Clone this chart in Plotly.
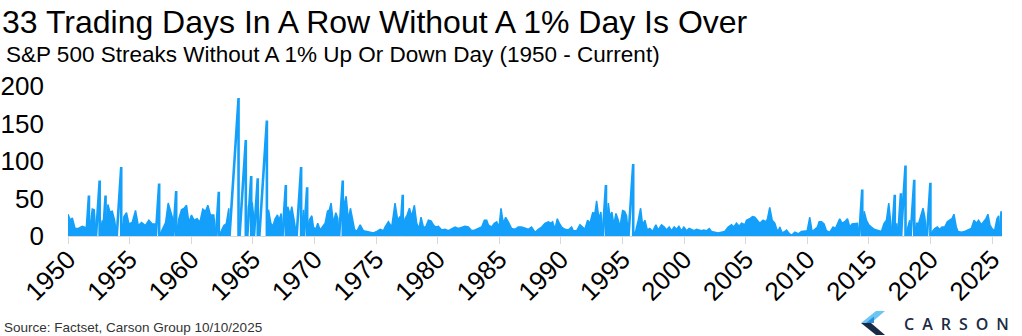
import plotly.graph_objects as go

# S&P 500: running count of trading days without a +/-1% close.
# Profile readings (decimal year, streak length) per decade.
yr_1950s = [1950.00, 1950.19, 1950.35, 1950.57, 1950.84, 1951.16, 1951.48, 1951.84, 1951.97,
            1952.13, 1952.32, 1952.78, 1953.24, 1953.40, 1953.59, 1953.78, 1954.00, 1954.54,
            1954.75, 1954.94, 1955.21, 1955.48, 1955.70, 1955.97, 1956.29, 1956.56, 1956.84,
            1957.11, 1957.65, 1957.92, 1958.13, 1958.32, 1958.54, 1959.00, 1959.21, 1959.43,
            1959.62, 1959.81]
val_1950s = [29, 21, 24, 10, 10, 13, 11, 20, 36,
             35, 31, 21, 42, 32, 33, 21, 30, 26,
             31, 16, 18, 34, 14, 18, 14, 21, 16,
             16, 9, 18, 44, 33, 21, 23, 35, 37,
             41, 18]

yr_1960s = [1960.02, 1960.24, 1960.48, 1960.70, 1960.94, 1961.16, 1961.35, 1961.56, 1961.83,
            1962.03, 1962.46, 1962.65, 1962.84, 1963.05, 1964.49, 1964.95, 1965.04, 1965.45,
            1966.27, 1966.46, 1966.62, 1966.81, 1967.00, 1967.13, 1967.30, 1967.49, 1967.84,
            1968.03, 1968.16, 1968.35, 1968.57, 1968.73, 1969.11, 1969.25, 1969.57, 1969.79,
            1969.92]
val_1960s = [28, 21, 23, 18, 36, 33, 41, 28, 28,
             21, 8, 14, 16, 37, 41, 45, 30, 26,
             35, 17, 13, 23, 28, 21, 30, 13, 39,
             28, 39, 21, 19, 26, 35, 17, 21, 27,
             12]

yr_1970s = [1970.11, 1970.27, 1970.46, 1970.65, 1970.87, 1971.06, 1971.22, 1971.35, 1971.54,
            1971.73, 1971.89, 1972.08, 1972.43, 1972.57, 1972.76, 1972.92, 1973.08, 1973.25,
            1973.43, 1973.71, 1973.98, 1974.25, 1974.52, 1974.79, 1975.06, 1975.33, 1975.60,
            1975.73, 1976.00, 1976.27, 1976.54, 1976.76, 1976.95, 1977.35, 1977.52, 1977.71,
            1977.89, 1978.11, 1978.30, 1978.49, 1978.65, 1978.84, 1979.03, 1979.25, 1979.46,
            1979.65, 1979.84]
val_1970s = [9, 17, 8, 12, 17, 33, 35, 44, 17,
             31, 24, 21, 44, 53, 21, 37, 21, 9,
             6, 15, 7, 6, 5, 4, 6, 9, 7,
             12, 19, 12, 44, 21, 26, 23, 28, 37,
             26, 41, 17, 10, 25, 12, 12, 21, 20,
             15, 12]

yr_1980s = [1980.06, 1980.33, 1980.60, 1980.87, 1981.14, 1981.41, 1981.68, 1981.95, 1982.22,
            1982.49, 1982.76, 1983.03, 1983.30, 1983.57, 1983.79, 1983.98, 1984.11, 1984.38,
            1984.60, 1984.79, 1984.98, 1985.14, 1985.33, 1985.52, 1985.73, 1986.00, 1986.27,
            1986.54, 1986.81, 1987.08, 1987.35, 1987.62, 1987.90, 1988.17, 1988.44, 1988.71,
            1988.98, 1989.17, 1989.33, 1989.52, 1989.71, 1989.87]
val_1980s = [13, 8, 9, 7, 10, 12, 10, 12, 13,
             12, 7, 8, 10, 12, 21, 21, 15, 12,
             17, 19, 12, 37, 17, 25, 19, 10, 9,
             12, 12, 10, 9, 12, 5, 9, 12, 17,
             19, 17, 19, 9, 23, 17]

yr_1990s = [1990.06, 1990.33, 1990.60, 1990.87, 1991.01, 1991.28, 1991.55, 1991.76, 1991.95,
            1992.17, 1992.36, 1992.58, 1992.76, 1992.90, 1993.09, 1993.25, 1993.44, 1993.85,
            1993.98, 1994.14, 1994.30, 1994.47, 1994.66, 1994.79, 1995.01, 1995.17, 1995.33,
            1995.49, 1996.09, 1996.28, 1996.47, 1996.63, 1996.82, 1997.01, 1997.22, 1997.44,
            1997.71, 1997.90, 1998.17, 1998.39, 1998.58, 1998.79, 1998.98, 1999.20, 1999.39,
            1999.58, 1999.79, 1999.98]
val_1990s = [12, 9, 8, 12, 7, 7, 15, 12, 9,
             21, 17, 31, 30, 47, 23, 32, 12, 44,
             26, 32, 15, 30, 21, 12, 34, 33, 27,
             13, 8, 21, 37, 15, 21, 8, 10, 6,
             15, 8, 15, 12, 8, 12, 7, 12, 9,
             13, 7, 12]

yr_2000s = [2000.20, 2000.41, 2000.60, 2000.82, 2001.01, 2001.22, 2001.41, 2001.60, 2001.82,
            2002.04, 2002.22, 2002.49, 2002.76, 2003.03, 2003.30, 2003.58, 2003.85, 2004.03,
            2004.25, 2004.47, 2004.66, 2004.93, 2005.06, 2005.33, 2005.55, 2005.74, 2005.93,
            2006.14, 2006.41, 2006.63, 2006.77, 2006.95, 2007.15, 2007.36, 2007.50, 2007.63,
            2007.77, 2007.96, 2008.18, 2008.31, 2008.50, 2008.72, 2008.99, 2009.26, 2009.53,
            2009.74, 2009.99]
val_2000s = [7, 10, 9, 7, 9, 8, 7, 8, 7,
             10, 6, 5, 4, 5, 6, 12, 15, 12,
             17, 13, 17, 15, 21, 23, 26, 25, 21,
             17, 21, 19, 23, 38, 21, 17, 10, 6,
             12, 4, 6, 8, 4, 1, 5, 3, 6,
             6, 7]

yr_2010s = [2010.20, 2010.39, 2010.61, 2010.82, 2010.96, 2011.15, 2011.36, 2011.55, 2011.82,
            2012.09, 2012.28, 2012.50, 2012.63, 2012.82, 2013.04, 2013.26, 2013.45, 2013.63,
            2013.85, 2014.07, 2014.26, 2014.61, 2014.80, 2014.99, 2015.20, 2015.42, 2015.61,
            2015.80, 2016.01, 2016.23, 2016.42, 2016.61, 2016.77, 2016.96, 2017.26, 2017.42,
            2017.74, 2018.12, 2018.31, 2018.45, 2018.85, 2019.04, 2019.20, 2019.39, 2019.53,
            2019.74]
val_2010s = [25, 6, 9, 12, 19, 19, 16, 7, 5,
             12, 10, 19, 23, 17, 19, 23, 12, 16,
             17, 17, 12, 33, 21, 15, 12, 9, 8,
             7, 6, 17, 21, 44, 17, 28, 17, 37,
             41, 10, 21, 12, 17, 17, 27, 37, 26,
             13]

yr_2020s = [2020.15, 2020.34, 2020.55, 2020.74, 2020.93, 2021.15, 2021.36, 2021.55, 2021.74,
            2021.90, 2022.09, 2022.23, 2022.50, 2022.77, 2023.04, 2023.31, 2023.53, 2023.72,
            2023.90, 2024.12, 2024.31, 2024.50, 2024.66, 2024.82, 2024.99, 2025.20, 2025.39,
            2025.53]
val_2020s = [6, 10, 12, 9, 12, 12, 19, 21, 23,
             29, 12, 6, 5, 6, 8, 10, 21, 17,
             21, 15, 19, 23, 29, 15, 10, 7, 23,
             27]

# Long streaks: decimal year the streak ended and its length in trading days
long_end = [1951.70, 1952.57, 1953.05, 1954.32, 1957.40, 1958.78, 1962.24, 1963.84, 1964.43,
            1964.87, 1965.40, 1966.14, 1967.68, 1968.92, 1969.41, 1972.30, 1977.17, 1993.66,
            1995.87, 2014.46, 2017.10, 2017.60, 2017.97, 2018.68, 2019.99, 2025.76]
long_len = [54, 74, 54, 92, 70, 60, 59, 184, 128,
            80, 77, 154, 68, 92, 65, 74, 55, 68,
            96, 62, 55, 57, 94, 75, 71, 33]

tick_vals = [1950, 1955, 1960, 1965, 1970, 1975, 1980, 1985, 1990, 1995, 2000, 2005, 2010,
             2015, 2020, 2025]
tick_text = ["1950", "1955", "1960", "1965", "1970", "1975", "1980", "1985", "1990", "1995",
             "2000", "2005", "2010", "2015", "2020", "2025"]

TITLE = "33 Trading Days In A Row Without A 1% Day Is Over"
SUBTITLE = "S&P 500 Streaks Without A 1% Up Or Down Day (1950 - Current)"
SOURCE = "Source: Factset, Carson Group 10/10/2025"

TRADING_DAYS = 252
BLUE = "#14a0fa"
NAVY = "#1c2b45"
FONT = "Liberation Sans, Arial, sans-serif"

W, H = 1022, 336
ML, MR, MT, MB = 68, 20, 86, 100
PW, PH = W - ML - MR, H - MT - MB


def paper(px, py):
    """Pixel position on the page -> paper coordinates."""
    return (px - ML) / PW, (H - MB - py) / PH


# ---- build the streak series ----
pairs = sorted(zip(yr_1950s + yr_1960s + yr_1970s + yr_1980s + yr_1990s + yr_2000s + yr_2010s
                   + yr_2020s,
                   val_1950s + val_1960s + val_1970s + val_1980s + val_1990s + val_2000s
                   + val_2010s + val_2020s))

windows = []
prev_end = None
for end, n in sorted(zip(long_end, long_len)):
    start = end - n / TRADING_DAYS
    if prev_end is not None and start < prev_end:
        start = prev_end
    windows.append((start, end, n))
    prev_end = end

# dense stretches between the long streaks (filled to the axis)
bounds = [(None, windows[0][0])]
bounds += [(windows[i][1], windows[i + 1][0]) for i in range(len(windows) - 1)]
bounds += [(windows[-1][1], None)]

fx, fy = [], []
for lo, hi in bounds:
    pts = [(x, y) for x, y in pairs if (lo is None or x > lo) and (hi is None or x < hi)]
    if not pts:
        continue
    if lo is not None:
        fx.append(lo)
        fy.append(0)
    fx += [p[0] for p in pts]
    fy += [p[1] for p in pts]
    if hi is not None:
        fx.append(hi)
        fy.append(0)
    fx.append(None)
    fy.append(None)

# long streaks: count climbs day by day, then resets on the 1% day
rx, ry = [], []
for start, end, n in windows:
    rx += [start, end, end, None]
    ry += [0, n, 0, None]

fig = go.Figure()
fig.add_trace(go.Scatter(x=fx, y=fy, mode="lines", fill="tozeroy", fillcolor=BLUE,
                         line=dict(color=BLUE, width=1.5), connectgaps=False,
                         hoverinfo="skip", showlegend=False))
fig.add_trace(go.Scatter(x=rx, y=ry, mode="lines", line=dict(color=BLUE, width=2.6),
                         connectgaps=False, hoverinfo="skip", showlegend=False))

fig.update_xaxes(range=[1950, 2025.8], tickvals=tick_vals, ticktext=tick_text, tickangle=-45,
                 showline=True, linecolor="#d9d9d9", linewidth=1, ticks="outside", ticklen=7,
                 tickcolor="#d9d9d9", showgrid=False, zeroline=False, automargin=False,
                 ticklabelstandoff=-10,
                 tickfont=dict(family=FONT, size=26, color="#000"))
fig.update_yaxes(range=[0, 200], tickvals=[0, 50, 100, 150, 200], showgrid=False,
                 zeroline=False, showline=False, ticks="", ticklabelstandoff=23,
                 automargin=False, tickfont=dict(family=FONT, size=26, color="#000"))

ann = []
tx, ty = paper(0, 2)
ann.append(dict(x=tx, y=ty, text=TITLE, font=dict(family=FONT, size=32, color="#000")))
sx, sy = paper(4, 40)
ann.append(dict(x=sx, y=sy, text=SUBTITLE, font=dict(family=FONT, size=22.5, color="#000")))
fx0, fy0 = paper(2, 318)
ann.append(dict(x=fx0, y=fy0, text=SOURCE, font=dict(family=FONT, size=13.5, color="#333")))
cx, cy = paper(902, 311)
ann.append(dict(x=cx, y=cy, text="C\u2002A\u2002R\u2002S\u2002O\u2002N",
                font=dict(family="Open Sans, sans-serif", size=16, color=NAVY, weight=600)))
for a in ann:
    a.update(xref="paper", yref="paper", xanchor="left", yanchor="top", showarrow=False)


def path(points):
    return "M " + " L ".join(f"{paper(x, y)[0]:.5f},{paper(x, y)[1]:.5f}" for x, y in points) + " Z"


# chevron mark beside the wordmark
logo = [
    ([(861, 323), (876, 311), (885, 311), (871, 323)], "#6cc6f5"),
    ([(861, 323), (871, 323), (885, 335), (876, 335)], NAVY),
    ([(866, 323), (874, 316.5), (874, 323)], "#2a8fd8"),
]
shapes = [dict(type="path", path=path(pts), xref="paper", yref="paper",
               fillcolor=c, line=dict(width=0), layer="above") for pts, c in logo]

fig.update_layout(width=W, height=H, autosize=False,
                  margin=dict(l=ML, r=MR, t=MT, b=MB),
                  paper_bgcolor="white", plot_bgcolor="white",
                  annotations=ann, shapes=shapes, showlegend=False)

fig.write_html("out.html")
